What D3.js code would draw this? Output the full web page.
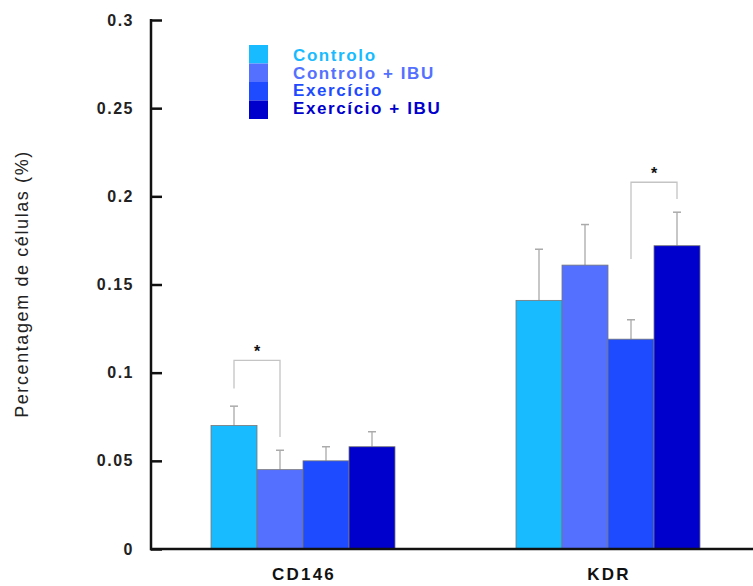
<!DOCTYPE html>
<html><head><meta charset="utf-8">
<script src="https://cdn.jsdelivr.net/npm/d3@7"></script>
<style>body{margin:0;background:#fff}svg{display:block}</style>
</head><body>
<svg id="c" width="753" height="586"></svg>
<script>
const categories = ["CD146", "KDR"];
const series = ["Controlo", "Controlo + IBU", "Exercício", "Exercício + IBU"];
const colors = ["#18BBFF", "#5470FF", "#1E4BFF", "#0000CC"];
const values = [
  [0.070, 0.045, 0.050, 0.058],
  [0.141, 0.161, 0.119, 0.172]
];
const errors = [
  [0.011, 0.011, 0.008, 0.0085],
  [0.029, 0.023, 0.011, 0.019]
];
const yTicks = [0, 0.05, 0.1, 0.15, 0.2, 0.25, 0.3];
const yTickLabels = ["0", "0.05", "0.1", "0.15", "0.2", "0.25", "0.3"];
// significance brackets: category index, series a, series b, top value, leg end a, leg end b
const sigCat = [0, 1];
const sigA = [0, 2];
const sigB = [1, 3];
const sigTop = [0.107, 0.208];
const sigEndA = [0.091, 0.1645];
const sigEndB = [0.0635, 0.1985];

const svg = d3.select("#c");
const font = "'Liberation Sans', Arial, Helvetica, sans-serif";
const y = d3.scaleLinear().domain([0, 0.3]).range([549, 20]);
const x0 = d3.scalePoint().domain(categories).range([303, 608]);
const x1 = d3.scaleBand().domain(series).range([-92, 92]);

// bars
categories.forEach((c, ci) => {
  const g = svg.append("g").attr("transform", `translate(${x0(c)},0)`);
  series.forEach((s, si) => {
    const v = values[ci][si], e = errors[ci][si];
    const cx = x1(s) + x1.bandwidth() / 2;
    g.append("line").attr("x1", cx).attr("x2", cx).attr("y1", y(v)).attr("y2", y(v + e))
      .attr("stroke", "#b5b5b5").attr("stroke-width", 1.5);
    g.append("line").attr("x1", cx - 4).attr("x2", cx + 4).attr("y1", y(v + e)).attr("y2", y(v + e))
      .attr("stroke", "#aaa").attr("stroke-width", 1.5);
    g.append("rect").attr("x", x1(s)).attr("width", x1.bandwidth())
      .attr("y", y(v)).attr("height", y(0) - y(v))
      .attr("fill", colors[si]).attr("stroke", "#777").attr("stroke-width", 0.8);
  });
});

// significance brackets
sigCat.forEach((ci, k) => {
  const c = categories[ci];
  const xa = x0(c) + x1(series[sigA[k]]) + x1.bandwidth() / 2;
  const xb = x0(c) + x1(series[sigB[k]]) + x1.bandwidth() / 2;
  svg.append("path")
    .attr("d", `M${xa},${y(sigEndA[k])}V${y(sigTop[k])}H${xb}V${y(sigEndB[k])}`)
    .attr("fill", "none").attr("stroke", "#c4c4c4").attr("stroke-width", 1.3);
  svg.append("text").attr("x", (xa + xb) / 2).attr("y", y(sigTop[k]) - 3)
    .attr("text-anchor", "middle").attr("font-family", font).attr("font-weight", "bold")
    .attr("font-size", 16).attr("fill", "#111").text("*");
});

// y axis
const yAxis = d3.axisRight(y).tickValues(yTicks).tickSize(11).tickFormat("");
const ya = svg.append("g").attr("transform", "translate(151,0)").call(yAxis);
ya.select(".domain").remove();
ya.selectAll(".tick line").attr("stroke", "#111").attr("stroke-width", 2.5);
svg.append("line").attr("x1", 151).attr("x2", 151).attr("y1", y(0.3) - 1).attr("y2", y(0) + 1.2)
  .attr("stroke", "#111").attr("stroke-width", 2.5);
svg.append("g").selectAll("text").data(yTicks).join("text")
  .attr("x", 134).attr("y", d => y(d) + 5.5).attr("text-anchor", "end")
  .attr("font-family", font).attr("font-weight", "bold").attr("font-size", 16)
  .attr("letter-spacing", 1.5).attr("fill", "#222")
  .text((d, i) => yTickLabels[i]);

// x axis
svg.append("line").attr("x1", 150).attr("x2", 753).attr("y1", y(0)).attr("y2", y(0))
  .attr("stroke", "#111").attr("stroke-width", 2.5);
svg.append("g").selectAll("text").data(categories).join("text")
  .attr("x", d => x0(d) + 1).attr("y", 580).attr("text-anchor", "middle")
  .attr("font-family", font).attr("font-weight", "bold").attr("font-size", 17)
  .attr("letter-spacing", 2.2).attr("fill", "#111")
  .text(d => d);

// y label
svg.append("text").attr("transform", "translate(28,284) rotate(-90)")
  .attr("text-anchor", "middle").attr("font-family", font).attr("font-size", 18)
  .attr("letter-spacing", 1.6).attr("fill", "#222")
  .text("Percentagem de células (%)");

// legend
const lg = svg.append("g");
series.forEach((s, i) => {
  lg.append("rect").attr("x", 249).attr("y", 45 + i * 18.5).attr("width", 19).attr("height", 18.5)
    .attr("fill", colors[i]);
  lg.append("text").attr("x", 293).attr("y", 61 + i * 17.7)
    .attr("font-family", font).attr("font-weight", "bold").attr("font-size", 17)
    .attr("letter-spacing", 1.6).attr("fill", colors[i]).text(s);
});
</script>
</body></html>
